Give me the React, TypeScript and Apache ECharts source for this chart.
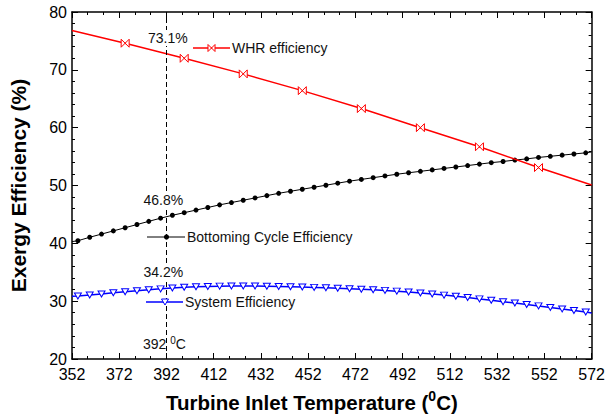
import React, { useEffect, useRef } from "react";
import * as echarts from "echarts";

const FONT = "'Liberation Sans', Arial, Helvetica, sans-serif";
const X0 = 352; // first x tick (axis drawn in offset units so ticks start at 352)
const xTickLabels = ["352", "372", "392", "412", "432", "452", "472", "492", "512", "532", "552", "572"];

// Temperatures (°C) at which markers are drawn
const temps = [
  354.5, 359.5, 364.5, 369.5, 374.5, 379.5, 384.5, 389.5, 394.5, 399.5, 404.5,
  409.5, 414.5, 419.5, 424.5, 429.5, 434.5, 439.5, 444.5, 449.5, 454.5, 459.5,
  464.5, 469.5, 474.5, 479.5, 484.5, 489.5, 494.5, 499.5, 504.5, 509.5, 514.5,
  519.5, 524.5, 529.5, 534.5, 539.5, 544.5, 549.5, 554.5, 559.5, 564.5, 569.5,
];

const bottomingEff = [
  40.45, 41.05, 41.6, 42.15, 42.7, 43.25, 43.8, 44.35, 44.85, 45.3, 45.75,
  46.2, 46.65, 47.05, 47.45, 47.85, 48.25, 48.65, 49.0, 49.35, 49.7, 50.05,
  50.4, 50.75, 51.05, 51.35, 51.65, 51.95, 52.2, 52.45, 52.7, 52.95, 53.2,
  53.45, 53.7, 53.95, 54.15, 54.4, 54.6, 54.85, 55.05, 55.25, 55.45, 55.65,
];

const systemEff = [
  30.9, 31.07, 31.25, 31.45, 31.63, 31.8, 31.97, 32.13, 32.28, 32.4, 32.49,
  32.55, 32.6, 32.62, 32.62, 32.61, 32.58, 32.55, 32.5, 32.44, 32.38, 32.31,
  32.24, 32.16, 32.07, 31.97, 31.86, 31.73, 31.58, 31.42, 31.24, 31.05, 30.84,
  30.62, 30.39, 30.15, 29.91, 29.67, 29.43, 29.18, 28.92, 28.66, 28.39, 28.12,
];

const whrTemps = [374.5, 399.5, 424.5, 449.5, 474.5, 499.5, 524.5, 549.5];
const whrEff = [74.6, 72.0, 69.3, 66.4, 63.3, 60.0, 56.7, 53.1];

// line end points (no marker)
const startT = 352;
const endT = 572;
const whrEnds = [76.8, 50.1];
const bottomingEnds = [40.3, 55.8];
const systemEnds = [30.85, 27.95];

const markT = 392;

const BOWTIE = "path://M0,0L10,10L10,0L0,10Z";

function build(ts: number[], vs: number[], ends: number[]) {
  const d: any[] = [{ value: [startT - X0, ends[0]], symbol: "none" }];
  ts.forEach((t, i) => d.push({ value: [t - X0, vs[i]] }));
  d.push({ value: [endT - X0, ends[1]], symbol: "none" });
  return d;
}

export default function App() {
  const ref = useRef<HTMLDivElement>(null);
  useEffect(() => {
    if (!ref.current) return;
    const chart = echarts.init(ref.current, undefined, { renderer: "svg" });
    const axisCommon = {
      axisLine: { show: true, onZero: false, lineStyle: { color: "#000", width: 1.5 } },
      axisTick: { show: true, inside: true, length: 6, lineStyle: { color: "#000", width: 1 } },
      splitLine: { show: false },
    };
    const xCommon = {
      ...axisCommon,
      type: "value",
      min: 0,
      max: 220,
      interval: 20,
      minorTick: { show: true, splitNumber: 3, length: 3, lineStyle: { color: "#000", width: 1 } },
    };
    const yCommon = {
      ...axisCommon,
      type: "value",
      min: 20,
      max: 80,
      interval: 10,
      minorTick: { show: true, splitNumber: 5, length: 3, lineStyle: { color: "#000", width: 1 } },
    };
    const txt = (text: string, x: number, y: number, extra: any = {}) => ({
      type: "text",
      x,
      y,
      style: { text, font: `14px ${FONT}`, fill: "#111", textVerticalAlign: "middle", ...extra },
      z: 100,
    });
    const bg = { backgroundColor: "#fff", padding: [1, 0, 1, 0] };
    chart.setOption({
      animation: false,
      backgroundColor: "#fff",
      grid: { left: 68, right: 15, top: 12, bottom: 57, containLabel: false },
      xAxis: [
        {
          ...xCommon,
          position: "bottom",
          axisLabel: {
            color: "#000",
            fontSize: 16,
            fontFamily: FONT,
            margin: 7,
            formatter: (v: number) => xTickLabels[Math.round(v / 20)] ?? "",
          },
        },
        { ...xCommon, position: "top", axisLabel: { show: false } },
      ],
      yAxis: [
        {
          ...yCommon,
          position: "left",
          axisLabel: { color: "#000", fontSize: 16, fontFamily: FONT, margin: 5 },
          name: "Exergy Efficiency (%)",
          nameLocation: "middle",
          nameGap: 43,
          nameRotate: 90,
          nameTextStyle: { color: "#000", fontSize: 21, fontWeight: "bold", fontFamily: FONT },
        },
        { ...yCommon, position: "right", axisLabel: { show: false } },
      ],
      series: [
        {
          name: "WHR efficiency",
          type: "line",
          data: build(whrTemps, whrEff, whrEnds),
          symbol: BOWTIE,
          symbolSize: [8, 8],
          lineStyle: { color: "#ff0000", width: 1.5 },
          itemStyle: { color: "#fff", borderColor: "#ff0000", borderWidth: 1 },
          z: 3,
          markLine: {
            silent: true,
            symbol: "none",
            label: { show: false },
            lineStyle: { color: "#000", width: 1, type: [5, 3] },
            data: [{ xAxis: markT - X0 }],
          },
        },
        {
          name: "Bottoming Cycle Efficiency",
          type: "line",
          data: build(temps, bottomingEff, bottomingEnds),
          symbol: "circle",
          symbolSize: 5,
          lineStyle: { color: "#000", width: 1 },
          itemStyle: { color: "#000", borderColor: "#000", borderWidth: 0 },
          z: 2,
        },
        {
          name: "System Efficiency",
          type: "line",
          data: build(temps, systemEff, systemEnds),
          symbol: "triangle",
          symbolRotate: 180,
          symbolSize: [7, 6],
          lineStyle: { color: "#0000ff", width: 1.5 },
          itemStyle: { color: "#fff", borderColor: "#0000ff", borderWidth: 1 },
          z: 2,
        },
      ],
      graphic: [
        txt("73.1%", 148, 38, bg),
        { type: "line", shape: { x1: 193, y1: 48, x2: 230, y2: 48 }, style: { stroke: "#ff0000", lineWidth: 1.5 }, z: 100 },
        {
          type: "polygon",
          shape: { points: [[208, 44.5], [215, 51.5], [215, 44.5], [208, 51.5]] },
          style: { stroke: "#ff0000", fill: "#fff", lineWidth: 1 },
          z: 101,
        },
        txt("WHR efficiency", 232, 48),
        txt("46.8%", 143.5, 200, bg),
        { type: "line", shape: { x1: 147, y1: 237, x2: 185, y2: 237 }, style: { stroke: "#000", lineWidth: 1 }, z: 100 },
        { type: "circle", shape: { cx: 166.5, cy: 237, r: 2.6 }, style: { fill: "#000" }, z: 101 },
        txt("Bottoming Cycle Efficiency", 187, 237),
        txt("34.2%", 143.5, 272, bg),
        { type: "line", shape: { x1: 146, y1: 302, x2: 183, y2: 302 }, style: { stroke: "#0000ff", lineWidth: 1.5 }, z: 100 },
        {
          type: "polygon",
          shape: { points: [[161.5, 299], [168.5, 299], [165, 305]] },
          style: { stroke: "#0000ff", fill: "#fff", lineWidth: 1 },
          z: 101,
        },
        txt("System Efficiency", 185, 302),
        {
          type: "text",
          x: 143,
          y: 335,
          z: 100,
          style: {
            text: "{a|392 }{s|0}{a|C}",
            rich: {
              a: { font: `14px ${FONT}`, fill: "#111", lineHeight: 16, verticalAlign: "bottom" },
              s: { font: `10px ${FONT}`, fill: "#111", lineHeight: 16, verticalAlign: "top" },
            },
          },
        },
        {
          type: "text",
          x: 166,
          y: 389,
          z: 100,
          style: {
            text: "{a|Turbine Inlet Temperature (}{s|0}{a|C)}",
            rich: {
              a: { font: `bold 20.5px ${FONT}`, fill: "#000", lineHeight: 24, verticalAlign: "bottom" },
              s: { font: `bold 14px ${FONT}`, fill: "#000", lineHeight: 24, verticalAlign: "top" },
            },
          },
        },
      ],
    });
    return () => chart.dispose();
  }, []);
  return <div ref={ref} style={{ width: 608, height: 416, position: "absolute", left: 0, top: 0 }} />;
}
